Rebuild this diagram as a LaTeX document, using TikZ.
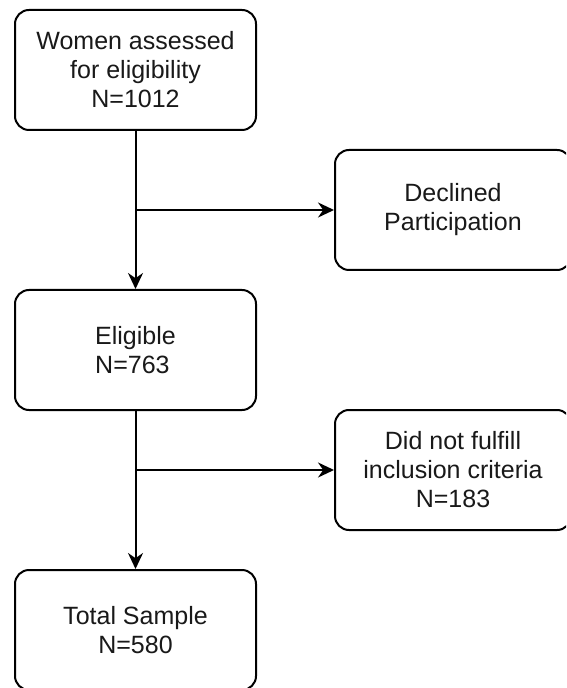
\documentclass[tikz,border=0pt]{standalone}
\usepackage{fontspec}
\setmainfont{Liberation Sans}
\usetikzlibrary{arrows.meta}
\begin{document}
\begin{tikzpicture}[x=0.5pt,y=-0.5pt,> = {Stealth[length=8pt,width=7.5pt]},
		box/.style={draw,line width=1pt,rounded corners=7pt,fill=white,
			minimum width=120.5pt,minimum height=60pt,align=center,
			font=\fontsize{12.5}{14.5}\selectfont,text=black!90},
		wide/.style={box,minimum width=118pt},
		link/.style={line width=1pt,->}]
		\clip (0,0) rectangle (566,688);
		\node[box] (women) at (135.5,70) {Women assessed\\for eligibility\\N=1012};
		\node[wide] (declined) at (453,210) {Declined\\Participation};
		\node[box,align=left] (eligible) at (135.5,350) {Eligible\\N=763};
		\node[wide] (excluded) at (453,470) {Did not fulfill\\inclusion criteria\\N=183};
		\node[box] (total) at (135.5,630) {Total Sample\\N=580};
		\coordinate (split1) at (135.5,210);
		\coordinate (split2) at (135.5,470);
		\draw[link] (women) -- (eligible);
		\draw[link] (split1) -- (declined);
		\draw[link] (eligible) -- (total);
		\draw[link] (split2) -- (excluded);
	\end{tikzpicture}
\end{document}
